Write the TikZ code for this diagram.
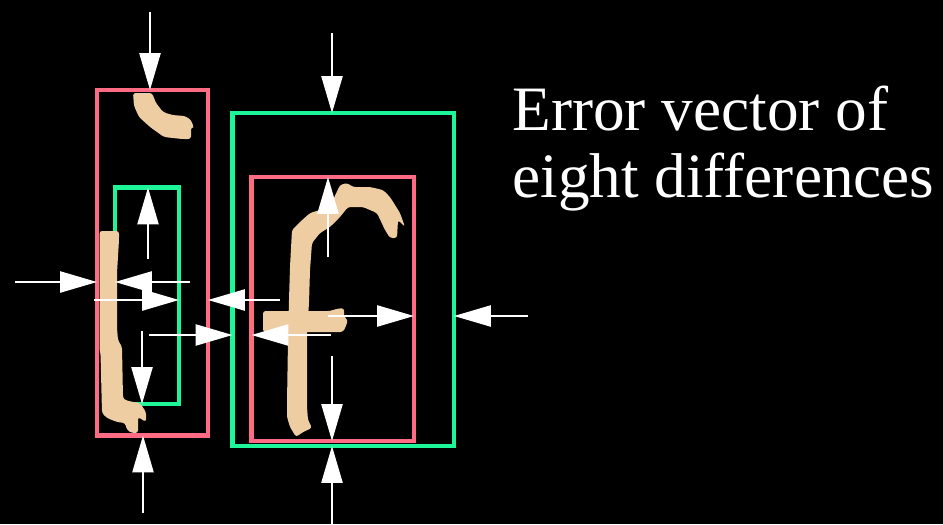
\documentclass[tikz,border=0pt]{standalone}
\usepackage{fontspec}
\setmainfont{Liberation Serif}
\usepackage{xcolor}
\usetikzlibrary{arrows.meta, fit}

\definecolor{boxpink}{RGB}{255,107,130}
\definecolor{boxgreen}{RGB}{28,245,152}
\definecolor{ink}{RGB}{238,205,163}

\begin{document}
\begin{tikzpicture}[
    x=0.02cm, y=-0.02cm,
    pinkbox/.style={draw=boxpink, line width=2.7pt, inner sep=0pt, outer sep=0pt},
    greenbox/.style={draw=boxgreen, line width=2.7pt, inner sep=0pt, outer sep=0pt},
    stroke/.style={fill=ink, rounded corners=1.5pt},
    diff/.style={white, line width=1.2pt, -{Triangle[length=21pt, width=12pt]}},
    caption/.style={white, font=\fontsize{36}{35}\selectfont, inner sep=0pt, anchor=base west},
  ]
    \fill[black] (0,0) rectangle (943,524);
    \useasboundingbox (0,0) rectangle (943,524);

    % ── Bounding boxes ──
    \node[pinkbox, fit={(97,90) (208,435.5)}] (i-pink) {};
    \node[greenbox, fit={(115,187.5) (179,404)}] (i-green) {};
    \node[greenbox, fit={(232.5,113) (454,446)}] (f-green) {};
    \node[pinkbox, fit={(251.5,177) (414,441)}] (f-pink) {};

    % ── Handwritten i ──
    \fill[stroke] (133,93) -- (152,93) -- (156,103) -- (163,112) -- (172,115) -- (185,116)
      -- (191,120) -- (194,128) -- (191,127) -- (191,139) -- (182,139) -- (164,137)
      -- (150,127) -- (139,117) -- (134,106) -- cycle;
    \fill[stroke] (99.5,231) -- (119,231) -- (119,240) -- (117,273) -- (117,328) -- (118,340)
      -- (122,347) -- (123,398) -- (125,400) -- (133,402) -- (140,403) -- (146,412)
      -- (146,422) -- (138,417) -- (138,433) -- (132,433) -- (127,430) -- (125,423)
      -- (117,422) -- (107,418) -- (102,413) -- (100.5,353) -- (99.5,350) -- cycle;

    % ── Handwritten f ──
    \fill[stroke] (290,267) -- (292,230) -- (300,222) -- (310,213) -- (320,210) -- (333,200)
      -- (340,185) -- (347,183) -- (353,187) -- (370,187) -- (383,190) -- (390,197)
      -- (400,213) -- (405,227) -- (398,220) -- (397,238) -- (390,238) -- (385,230)
      -- (377,213) -- (363,207) -- (348,207) -- (340,217) -- (330,227) -- (320,233)
      -- (312,243) -- (310,270) -- (309,303) -- (307,332) -- (307,407) -- (308,420)
      -- (312,428) -- (303,432) -- (296,437) -- (290,427) -- (287,417) -- (287,403)
      -- (288,340) -- (289,300) -- cycle;
    \fill[stroke] (263,311) -- (330,311) -- (336,309) -- (344,308) -- (344,317) -- (348,320)
      -- (346,326) -- (343,332) -- (263,332) -- cycle;

    % ── Differences of the i pair ──
    \coordinate (i-top) at (150,12);
    \coordinate (i-up) at (148,259);
    \coordinate (i-left) at (15,282);
    \coordinate (i-back) at (190,282);
    \coordinate (i-right) at (94,300);
    \coordinate (i-return) at (280,300);
    \coordinate (i-down) at (142,331);
    \coordinate (i-bottom) at (143,513);
    \draw[diff] (i-top) -- (i-top |- i-pink.north);
    \draw[diff] (i-up) -- (i-up |- i-green.north);
    \draw[diff] (i-left) -- (i-left -| i-pink.west);
    \draw[diff] (i-back) -- (i-back -| i-green.west);
    \draw[diff] (i-right) -- (i-right -| i-green.east);
    \draw[diff] (i-return) -- (i-return -| i-pink.east);
    \draw[diff] (i-down) -- (i-down |- i-green.south);
    \draw[diff] (i-bottom) -- (i-bottom |- i-pink.south);

    % ── Differences of the f pair ──
    \coordinate (f-top) at (332,33);
    \coordinate (f-up) at (328,257);
    \coordinate (f-left) at (149,335);
    \coordinate (f-back) at (331,335);
    \coordinate (f-right) at (328,316);
    \coordinate (f-return) at (528,316);
    \coordinate (f-down) at (332,356);
    \coordinate (f-bottom) at (332,524);
    \draw[diff] (f-top) -- (f-top |- f-green.north);
    \draw[diff] (f-up) -- (f-up |- f-pink.north);
    \draw[diff] (f-left) -- (f-left -| f-green.west);
    \draw[diff] (f-back) -- (f-back -| f-pink.west);
    \draw[diff] (f-right) -- (f-right -| f-pink.east);
    \draw[diff] (f-return) -- (f-return -| f-green.east);
    \draw[diff] (f-down) -- (f-down |- f-pink.south);
    \draw[diff] (f-bottom) -- (f-bottom |- f-green.south);

    % ── Caption ──
    \node[caption] (title-a) at (512,130) {Error vector of};
    \node[caption] (title-b) at (512,197) {eight differences};
  \end{tikzpicture}
\end{document}
